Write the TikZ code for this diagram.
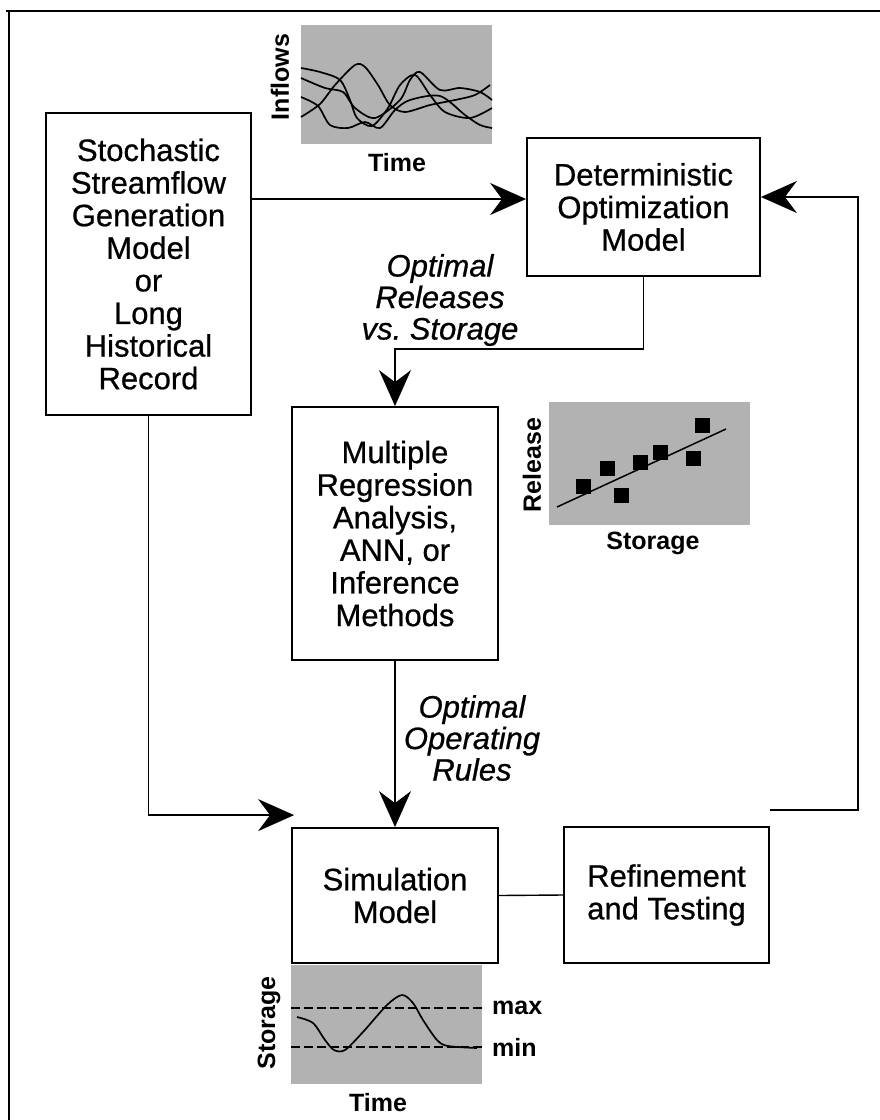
\documentclass[tikz,border=0pt]{standalone}
\usepackage{fontspec}
\setmainfont{Liberation Sans}
\newfontfamily\heavyfam{Liberation Sans}[FakeBold=0.7]
\newfontfamily\heavyitfam{Liberation Sans Italic}[FakeBold=0.7]
\usetikzlibrary{arrows.meta,calc}
\newcommand\boxfont{\heavyfam\fontsize{31}{32.6}\selectfont}
\newcommand\lblfont{\heavyitfam\fontsize{31}{31.5}\selectfont}
\newcommand\axfont{\bfseries\fontsize{25}{26}\selectfont}
\begin{document}
\begin{tikzpicture}[x=1pt,y=-1pt,
  box/.style={draw, line width=1.8pt, align=center, inner sep=0pt, font=\boxfont},
  conn/.style={line width=1.4pt},
  arr/.style={conn, -{Stealth[length=36pt,width=32pt,inset=12pt]}},
  lbl/.style={align=center, font=\lblfont},
  axlbl/.style={font=\axfont, inner sep=0pt},
  shade/.style={fill=black!30, draw=none},
  curve/.style={line width=1.7pt, line join=round}]
\useasboundingbox (0,0) rectangle (880,1120);

% page frame (top and left rules)
\draw[line width=2pt] (6,11) -- (880,11);
\draw[line width=2pt] (9,11) -- (9,1120);

% main blocks
\node[box, minimum width=205pt, minimum height=302pt] (A) at (148.5,264)
  {Stochastic\\Streamflow\\Generation\\Model\\or\\Long\\Historical\\Record};
\node[box, minimum width=233pt, minimum height=138pt] (B) at (643.5,207)
  {Deterministic\\Optimization\\Model};
\node[box, minimum width=206pt, minimum height=253pt] (C) at (395,533.5)
  {Multiple\\Regression\\Analysis,\\ANN, or\\Inference\\Methods};
\node[box, minimum width=206pt, minimum height=135pt] (D) at (395,895.5)
  {Simulation\\Model};
\node[box, minimum width=205pt, minimum height=136pt] (E) at (666.5,895)
  {Refinement\\and Testing};

% connector labels
\node[lbl] (rel) at (440,300) {Optimal\\Releases\\vs.\ Storage};
\node[lbl] (rules) at (472,738) {Optimal\\Operating\\Rules};

% connector end points
\coordinate (bin) at ([yshift=8pt]B.west);
\coordinate (bret) at ([yshift=10pt]B.east);
\coordinate (eret) at ([yshift=16pt]E.north east);
\coordinate (rx) at (858,0);
\coordinate (dtip) at ([xshift=3pt,yshift=12pt]D.north west);

% connectors
\draw[arr] (A.east |- bin) -- (bin);
\draw[arr] (B.south) -- ++(0,72) -| (C.north);
\draw[arr] (C.south) -- (D.north);
\draw[arr] (A.south) |- (dtip);
\draw[conn] (D.east) -- (E.west);
\draw[arr] (eret) -- (eret -| rx) |- (bret);

% inflow traces
\fill[shade] (301,25) rectangle (492,144);
\draw[curve] plot[smooth] coordinates {(301,68) (320,72) (340,80) (350,100) (357,118) (372,126) (388,108) (400,85) (415,75) (430,95) (445,112) (470,118) (492,108)};
\draw[curve] plot[smooth] coordinates {(301,117) (320,104) (335,85) (355,65) (365,67) (378,85) (390,105) (405,112) (430,105) (455,100) (475,95) (490,85)};
\draw[curve] plot[smooth] coordinates {(301,78) (325,88) (343,92) (355,108) (375,118) (400,100) (410,80) (420,72) (440,90) (460,88) (480,92) (492,100)};
\draw[curve] plot[smooth] coordinates {(301,97) (318,106) (330,125) (348,128) (365,122) (380,128) (395,110) (410,100) (440,96) (465,115) (480,125) (492,128)};
\node[axlbl, rotate=90] (inflab) at (280,77) {Inflows};
\node[axlbl] (intime) at (397,163) {Time};

% release vs storage scatter
\fill[shade] (549,402) rectangle (750,525);
\draw[line width=1.5pt] (557,507) -- (726,429);
\foreach \px/\py in {583/486, 607/468, 621/495, 640/462, 660/452, 693/458, 702/425}
  \fill (\px-7.5,\py-7.5) rectangle (\px+7.5,\py+7.5);
\node[axlbl, rotate=90] (rellab) at (532,465) {Release};
\node[axlbl] (stolab) at (653,543) {Storage};

% storage trajectory
\fill[shade] (291,965) rectangle (482,1084);
\draw[line width=2pt, dash pattern=on 9pt off 4pt] (291,1008) -- (482,1008);
\draw[line width=2pt, dash pattern=on 9pt off 4pt] (291,1047) -- (482,1047);
\draw[curve] plot[smooth] coordinates {(297,1017) (313,1023) (325,1040) (334,1050) (345,1050) (363,1032) (387,1005) (402,995) (413,1003) (423,1020) (437,1040) (448,1046) (477,1048)};
\node[axlbl, anchor=west] (maxlab) at (492,1008) {max};
\node[axlbl, anchor=west] (minlab) at (492,1047) {min};
\node[axlbl, rotate=90] (stlab) at (269,1023) {Storage};
\node[axlbl] (sttime) at (378,1103) {Time};
\end{tikzpicture}
\end{document}
